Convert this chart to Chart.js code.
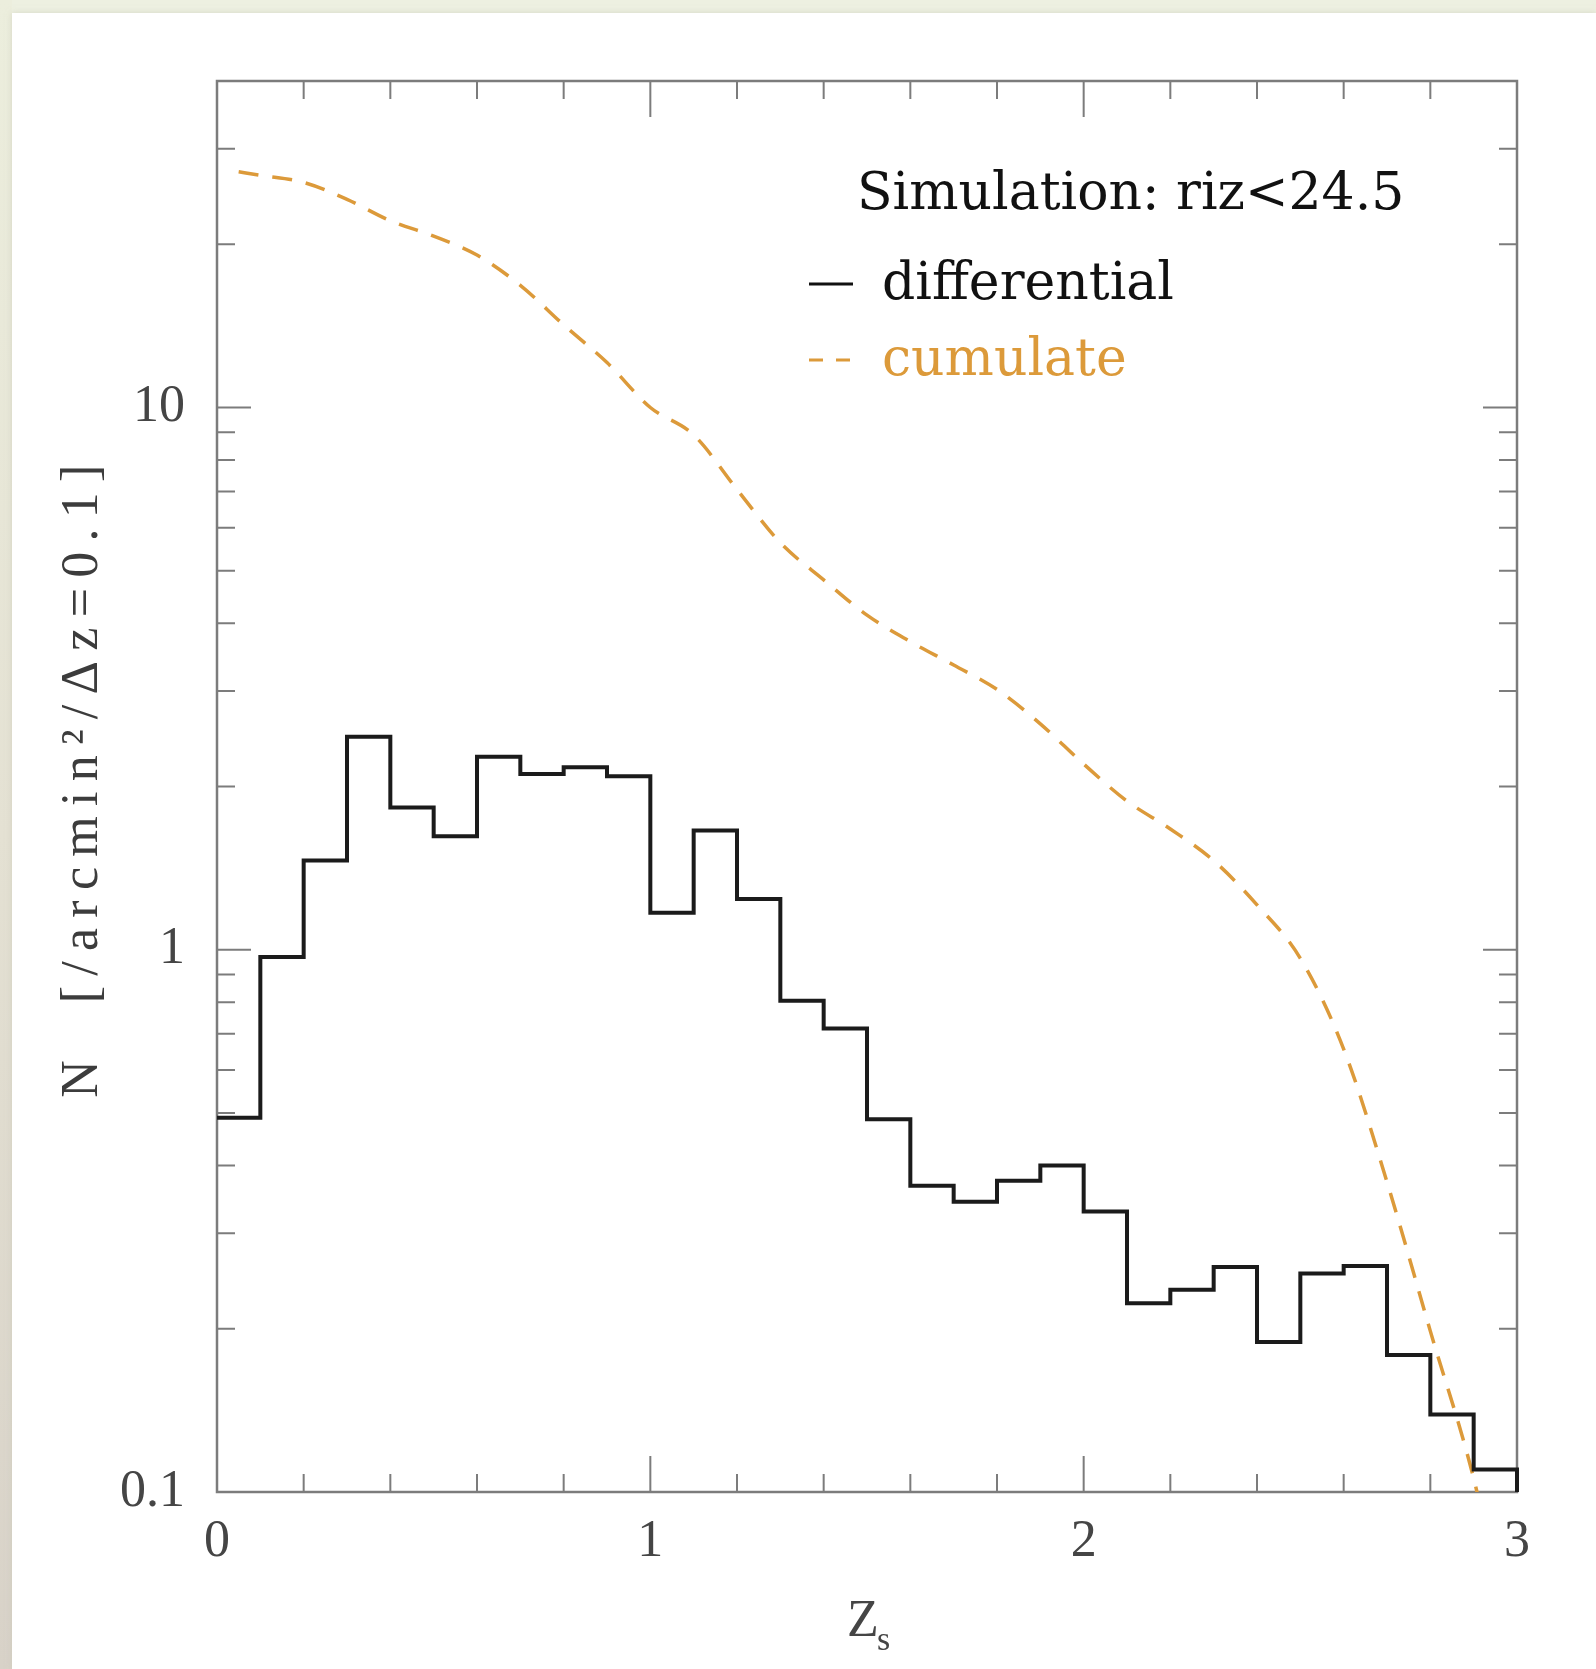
<!DOCTYPE html>
<html>
<head>
<meta charset="utf-8">
<title>N(z) simulation riz&lt;24.5</title>
<script src="https://cdn.jsdelivr.net/npm/chart.js@4.4.1/dist/chart.umd.min.js"></script>
<style>
  html, body { margin: 0; padding: 0; }
  body { width: 1596px; height: 1669px; overflow: hidden; position: relative; background: #edf0e1; }
  #leftStrip { position: absolute; left: 0; top: 0; width: 12px; height: 1669px;
               background: linear-gradient(to bottom, #eceedd 0%, #e4e1d3 50%, #d8d2c8 100%); }
  #panel { position: absolute; left: 12px; top: 13px; width: 1584px; height: 1656px; background: #ffffff;
           box-shadow: 0 0 6px rgba(200, 200, 180, 0.6); }
  #c { position: absolute; left: 0; top: 0; }
</style>
</head>
<body>
<div id="leftStrip"></div>
<div id="panel"></div>
<canvas id="c" width="1596" height="1669"></canvas>
<script>
// ------------------------------------------------------------
// redshift distribution, simulation riz < 24.5
// ------------------------------------------------------------

// histogram bin edges (dz = 0.1) and differential counts per bin
var binEdges = [0, 0.1, 0.2, 0.3, 0.4, 0.5, 0.6, 0.7, 0.8, 0.9, 1.0, 1.1, 1.2, 1.3, 1.4, 1.5,
                1.6, 1.7, 1.8, 1.9, 2.0, 2.1, 2.2, 2.3, 2.4, 2.5, 2.6, 2.7, 2.8, 2.9, 3.0];
var diffN = [0.49, 0.97, 1.46, 2.47, 1.83, 1.62, 2.27, 2.11, 2.17, 2.09,
             1.17, 1.66, 1.24, 0.805, 0.716, 0.487, 0.367, 0.343, 0.375, 0.400,
             0.329, 0.223, 0.236, 0.260, 0.189, 0.253, 0.261, 0.179, 0.139, 0.110];

// cumulative counts (dashed curve)
var cumZ = [0.05, 0.1, 0.2, 0.3, 0.4, 0.5, 0.6, 0.7, 0.8, 0.9, 1.0, 1.1, 1.2, 1.3, 1.4, 1.5,
            1.6, 1.7, 1.8, 1.9, 2.0, 2.1, 2.2, 2.3, 2.4, 2.5, 2.6, 2.7, 2.8, 2.9, 2.95];
var cumN = [27.2, 26.8, 26.0, 24.2, 22.1, 20.7, 19.1, 16.8, 14.2, 12.1, 10.0, 8.9, 7.06, 5.63, 4.81, 4.14,
            3.70, 3.35, 3.02, 2.61, 2.20, 1.88, 1.67, 1.46, 1.21, 0.964, 0.656, 0.373, 0.198, 0.106, 0.07];

// ticks
var xTicks = [0, 0.2, 0.4, 0.6, 0.8, 1, 1.2, 1.4, 1.6, 1.8, 2, 2.2, 2.4, 2.6, 2.8, 3];
var xLabelled = [0, 1, 2, 3];
var yTicks = [0.1, 0.2, 0.3, 0.4, 0.5, 0.6, 0.7, 0.8, 0.9, 1, 2, 3, 4, 5, 6, 7, 8, 9, 10, 20, 30, 40];
var yLabelled = [0.1, 1, 10];

var orange = '#dc9a3a';

function histPoints() {
    var pts = diffN.map(function(v, i) { return { x: binEdges[i], y: v }; });
    pts.push({ x: binEdges[binEdges.length - 1], y: diffN[diffN.length - 1] });
    pts.push({ x: binEdges[binEdges.length - 1], y: 0.05 });   // drop to the axis
    return pts;
}

function cumPoints() {
    return cumZ.map(function(z, i) { return { x: z, y: cumN[i] }; });
}

// frame with inward ticks on all four sides
var framePlugin = {
    id: 'frameTicks',
    beforeDatasetsDraw: function(chart) {
        var ctx = chart.ctx, a = chart.chartArea, xs = chart.scales.x, ys = chart.scales.y;
        ctx.save();
        ctx.strokeStyle = '#7c7c7c';
        ctx.lineWidth = 2.5;
        ctx.strokeRect(a.left, a.top, a.right - a.left, a.bottom - a.top);
        ctx.lineWidth = 2;
        ctx.beginPath();
        xTicks.forEach(function(v) {
            var px = xs.getPixelForValue(v);
            var len = xLabelled.indexOf(v) >= 0 ? 36 : 18;
            ctx.moveTo(px, a.bottom); ctx.lineTo(px, a.bottom - len);
            ctx.moveTo(px, a.top); ctx.lineTo(px, a.top + len);
        });
        yTicks.forEach(function(v) {
            var py = ys.getPixelForValue(v);
            var len = yLabelled.indexOf(v) >= 0 ? 34 : 18;
            ctx.moveTo(a.left, py); ctx.lineTo(a.left + len, py);
            ctx.moveTo(a.right, py); ctx.lineTo(a.right - len, py);
        });
        ctx.stroke();
        ctx.restore();
    }
};

// legend block and axis titles
var textPlugin = {
    id: 'texts',
    afterDraw: function(chart) {
        var ctx = chart.ctx;
        ctx.save();
        ctx.textBaseline = 'alphabetic';
        ctx.textAlign = 'left';

        ctx.font = '52px "DejaVu Serif"';
        ctx.fillStyle = '#111111';
        ctx.fillText('Simulation: riz<24.5', 857, 209);
        ctx.fillText('differential', 882, 299);
        ctx.fillStyle = orange;
        ctx.fillText('cumulate', 882, 375);

        ctx.lineWidth = 3;
        ctx.strokeStyle = '#111111';
        ctx.beginPath(); ctx.moveTo(809, 284); ctx.lineTo(853, 284); ctx.stroke();
        ctx.strokeStyle = orange;
        ctx.beginPath();
        ctx.moveTo(809, 360); ctx.lineTo(823, 360);
        ctx.moveTo(836, 360); ctx.lineTo(850, 360);
        ctx.stroke();

        // y title, rotated
        var yTitle = 'N  [/arcmin\u00b2/\u0394z=0.1]';
        ctx.font = '52px "Liberation Serif"';
        ctx.fillStyle = '#3c3c3c';
        var w = ctx.measureText(yTitle).width;
        var target = 633;
        if ('letterSpacing' in ctx) {
            ctx.letterSpacing = ((target - w) / (yTitle.length - 1)).toFixed(2) + 'px';
        }
        ctx.translate(83, 776);
        ctx.rotate(-Math.PI / 2);
        ctx.textAlign = 'center';
        ctx.textBaseline = 'middle';
        ctx.fillText(yTitle, 0, 0);
        ctx.setTransform(1, 0, 0, 1, 0, 0);
        if ('letterSpacing' in ctx) ctx.letterSpacing = '0px';

        // x title Z_s
        ctx.textAlign = 'left';
        ctx.textBaseline = 'alphabetic';
        ctx.fillStyle = '#454545';
        ctx.font = '52px "Liberation Serif"';
        ctx.fillText('Z', 847, 1636);
        ctx.font = '34px "Liberation Serif"';
        ctx.fillText('s', 877, 1650);
        ctx.restore();
    }
};

var tickFont = { family: 'Liberation Serif', size: 52 };

var chart = new Chart(document.getElementById('c'), {
    type: 'line',
    data: {
        datasets: [
            {
                label: 'differential',
                data: histPoints(),
                stepped: 'before',
                borderColor: '#1b1b1b',
                borderWidth: 4,
                pointRadius: 0,
                fill: false,
                clip: { left: 4, right: 4, top: 0, bottom: 0 }
            },
            {
                label: 'cumulate',
                data: cumPoints(),
                borderColor: orange,
                borderWidth: 3.5,
                borderDash: [20, 14],
                pointRadius: 0,
                fill: false,
                cubicInterpolationMode: 'monotone'
            }
        ]
    },
    options: {
        responsive: false,
        animation: false,
        devicePixelRatio: 1,
        events: [],
        layout: { padding: { top: 81, right: 79, left: 0, bottom: 0 } },
        plugins: { legend: { display: false }, tooltip: { enabled: false } },
        scales: {
            x: {
                type: 'linear', min: 0, max: 3,
                grid: { display: false }, border: { display: false },
                afterBuildTicks: function(s) { s.ticks = xTicks.map(function(v) { return { value: v }; }); },
                afterFit: function(s) { s.height = 177; },
                ticks: {
                    autoSkip: false, maxRotation: 0, padding: 11, color: '#454545', font: tickFont,
                    callback: function(v) { return xLabelled.indexOf(v) >= 0 ? String(v) : ''; }
                }
            },
            y: {
                type: 'logarithmic', min: 0.1, max: 40,
                grid: { display: false }, border: { display: false },
                afterBuildTicks: function(s) { s.ticks = yTicks.map(function(v) { return { value: v }; }); },
                afterFit: function(s) { s.width = 217; },
                ticks: {
                    autoSkip: false, padding: 24, color: '#454545', font: tickFont,
                    callback: function(v) { return yLabelled.indexOf(v) >= 0 ? String(v) : ''; }
                }
            }
        }
    },
    plugins: [framePlugin, textPlugin]
});
</script>
</body>
</html>
